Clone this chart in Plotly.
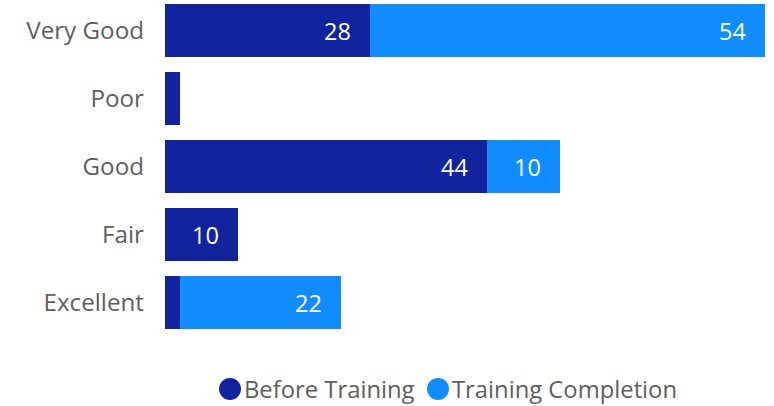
import plotly.graph_objects as go

# Rating categories, top to bottom
categories = ["Very Good", "Poor", "Good", "Fair", "Excellent"]
before_training = [28, 2, 44, 10, 2]
training_completion = [54, 0, 10, 0, 22]

series_names = ["Before Training", "Training Completion"]
series_colors = ["#12239E", "#118DFF"]

FONT = "Segoe UI, Open Sans, sans-serif"
TEXT_GREY = "#605E5C"
LABEL_MIN = 5  # values below this are too narrow to carry a label

fig = go.Figure()
for name, vals, color in zip(series_names, [before_training, training_completion], series_colors):
    fig.add_trace(go.Bar(
        y=categories, x=vals, name=name, orientation="h",
        marker=dict(color=color, line=dict(width=0)),
        showlegend=False, hoverinfo="x+name",
    ))

# Value labels, right-aligned inside the end of each segment
annotations = []
for i, cat in enumerate(categories):
    base = 0
    for vals in (before_training, training_completion):
        v = vals[i]
        end = base + v
        if v >= LABEL_MIN:
            annotations.append(dict(
                x=end, y=cat, xref="x", yref="y", text=str(v),
                showarrow=False, xanchor="right", yanchor="middle",
                xshift=-17, font=dict(family=FONT, size=23.5, color="white"),
            ))
        base = end

# Legend row: circle markers followed by series names
legend_x = [219, 427]
legend_y = 389
shapes = []
for name, color, lx in zip(series_names, series_colors, legend_x):
    shapes.append(dict(
        type="circle", xref="paper", yref="paper", xsizemode="pixel", ysizemode="pixel",
        xanchor=(lx - 165) / 600, yanchor=(406 - 66 - legend_y) / 340,
        x0=0, x1=22, y0=-11, y1=11,
        fillcolor=color, line=dict(width=0),
    ))
    annotations.append(dict(
        x=(lx + 23 - 165) / 600, y=(406 - 66 - legend_y) / 340, xref="paper", yref="paper",
        text=name, showarrow=False, xanchor="left", yanchor="middle",
        font=dict(family=FONT, size=23.8, color=TEXT_GREY),
    ))

fig.update_layout(
    barmode="stack",
    bargap=0.22,
    width=774, height=406,
    margin=dict(l=165, r=9, t=0, b=66),
    paper_bgcolor="white", plot_bgcolor="white",
    font=dict(family=FONT, color=TEXT_GREY),
    xaxis=dict(visible=False, range=[0, 82], fixedrange=True),
    yaxis=dict(
        categoryorder="array", categoryarray=categories,
        range=[4.5 + 3.5 / 68, -0.5 + 3.5 / 68],
        showgrid=False, zeroline=False, showline=False,
        ticks="", ticklabelstandoff=20,
        tickfont=dict(family=FONT, size=24.2, color=TEXT_GREY),
    ),
    shapes=shapes,
    annotations=annotations,
)

fig.write_html("out.html")
